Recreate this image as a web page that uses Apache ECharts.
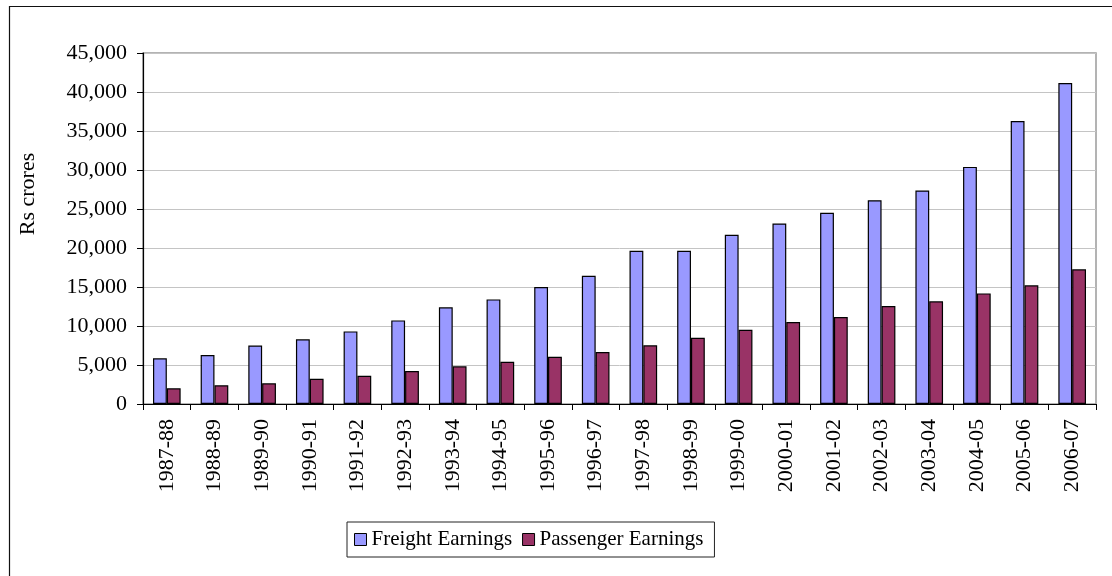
<!DOCTYPE html>
<html>
<head>
<meta charset="utf-8">
<script src="https://cdn.jsdelivr.net/npm/echarts@6/dist/echarts.min.js"></script>
<style>
  html, body { margin: 0; padding: 0; background: #fff; }
  #chart { width: 1112px; height: 576px; }
</style>
</head>
<body>
<div id="chart"></div>
<script>
// Indian Railways earnings by fiscal year, Rs crores
const years = ['1987-88', '1988-89', '1989-90', '1990-91', '1991-92', '1992-93', '1993-94',
  '1994-95', '1995-96', '1996-97', '1997-98', '1998-99', '1999-00', '2000-01', '2001-02',
  '2002-03', '2003-04', '2004-05', '2005-06', '2006-07'];
const freightEarnings = [5850, 6280, 7500, 8290, 9310, 10720, 12390, 13410, 14990, 16430,
  19640, 19640, 21690, 23150, 24510, 26130, 27380, 30400, 36290, 41160];
const passengerEarnings = [2010, 2400, 2650, 3240, 3620, 4230, 4830, 5420, 6060, 6660,
  7520, 8490, 9520, 10500, 11150, 12550, 13160, 14180, 15210, 17260];
const yTicks = { min: 0, max: 45000, step: 5000 };

const FONT = "'Liberation Serif', 'Times New Roman', serif";

const chart = echarts.init(document.getElementById('chart'), null, { renderer: 'canvas' });

chart.setOption({
  backgroundColor: '#ffffff',
  animation: false,
  textStyle: { fontFamily: FONT, color: '#000' },
  graphic: [
    {
      type: 'rect',
      silent: true,
      shape: { x: 9.5, y: 6.5, width: 1300, height: 800 },
      style: { fill: 'none', stroke: '#111', lineWidth: 1.2 }
    },
    {
      type: 'text',
      silent: true,
      x: 28,
      y: 194,
      rotation: Math.PI / 2,
      style: {
        text: 'Rs crores',
        font: '22px ' + FONT,
        fill: '#000',
        align: 'center',
        verticalAlign: 'middle'
      }
    }
  ],
  grid: {
    left: 143, right: 16, top: 53, bottom: 172,
    show: true,
    borderColor: '#9a9a9a',
    borderWidth: 1.5,
    containLabel: false
  },
  legend: {
    left: 347,
    top: 522,
    orient: 'horizontal',
    icon: 'rect',
    itemWidth: 12,
    itemHeight: 12,
    itemGap: 10,
    padding: [7, 11, 7, 7],
    borderColor: '#222',
    borderWidth: 1,
    textStyle: { fontFamily: FONT, fontSize: 21, color: '#000' },
    data: [
      { name: 'Freight Earnings', itemStyle: { borderColor: '#000', borderWidth: 1 } },
      { name: 'Passenger Earnings', itemStyle: { borderColor: '#000', borderWidth: 1 } }
    ]
  },
  xAxis: {
    type: 'category',
    data: years,
    boundaryGap: true,
    axisLine: { show: true, lineStyle: { color: '#000', width: 1.2 } },
    axisTick: { show: true, alignWithLabel: false, length: 6, lineStyle: { color: '#000' } },
    axisLabel: {
      rotate: 90,
      margin: 15,
      interval: 0,
      fontFamily: FONT,
      fontSize: 22,
      color: '#000'
    },
    splitLine: { show: false }
  },
  yAxis: {
    type: 'value',
    min: yTicks.min,
    max: yTicks.max,
    interval: yTicks.step,
    axisLine: { show: true, lineStyle: { color: '#000', width: 1.2 } },
    axisTick: { show: true, length: 6, lineStyle: { color: '#000' } },
    axisLabel: {
      margin: 16,
      fontFamily: FONT,
      fontSize: 22,
      color: '#000',
      formatter: v => v.toLocaleString('en-US')
    },
    splitLine: { show: true, lineStyle: { color: '#c4c4c4', width: 1 } }
  },
  series: [
    {
      name: 'Freight Earnings',
      type: 'bar',
      data: freightEarnings,
      barGap: '0%',
      barCategoryGap: '42%',
      itemStyle: { color: '#9999ff', borderColor: '#000', borderWidth: 1.2 }
    },
    {
      name: 'Passenger Earnings',
      type: 'bar',
      data: passengerEarnings,
      barGap: '0%',
      barCategoryGap: '42%',
      itemStyle: { color: '#993366', borderColor: '#000', borderWidth: 1.2 }
    }
  ]
});
</script>
</body>
</html>
